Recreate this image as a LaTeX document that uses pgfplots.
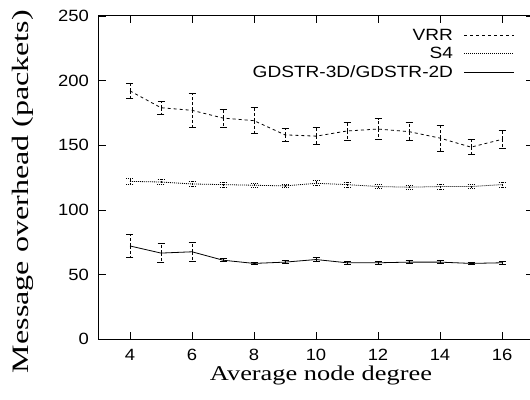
\documentclass[border=0pt]{standalone}
\usepackage{graphicx}
\usepackage{pgfplots}
\pgfplotsset{compat=1.18}
\usepackage{pgfplotstable}
\usepackage{fontspec}
\setmainfont{Liberation Serif}
\newfontfamily\arial[FakeStretch=1.13]{Liberation Sans}
\newfontfamily\legfont[FakeStretch=1.17]{Liberation Sans}
\newsavebox\lbox
\newcommand\fitx[2]{\sbox\lbox{#2}\pgfmathsetmacro\sx{#1/\wd\lbox}\scalebox{\sx}[1]{\usebox\lbox}}

\pgfplotstableread{
x y e
4 192 6
5 179 5
6 177 13
7 171 7
8 169 10
9 158 5
10 157 6.5
11 161 7
12 162.5 8
13 160.5 7
14 155.5 10
15 148.5 6
16 154.5 7
}\vrr
\pgfplotstableread{
x y e
4 122 2
5 121.5 2
6 120 2
7 119.5 2
8 119 1.5
9 118.5 1.5
10 120.5 2
11 119.5 2
12 118 1.5
13 117.5 1.5
14 118 2
15 118 1.5
16 119.5 2
}\sfour
\pgfplotstableread{
x y e
4 72 9
5 66.5 7.5
6 67.5 7.5
7 61 1
8 58.5 1
9 59.5 1
10 61.5 1.5
11 59 1
12 59 1
13 59.5 1
14 59.5 1
15 58.5 1
16 59 1
}\gdstr

\begin{document}
\begin{tikzpicture}
\useasboundingbox (-99pt,-60pt) rectangle (431pt,339pt);
\begin{axis}[
  scale only axis,
  width=434pt, height=323pt,
  xmin=3, xmax=17, ymin=0, ymax=250,
  xtick={4,6,...,16}, ytick={0,50,...,250},
  tick align=inside,
  major tick length=7pt,
  tick style={black, line width=0.6pt},
  axis line style={black, line width=1pt},
  /pgf/number format/assume math mode=true,
  ticklabel style={font=\arial\fontsize{16.3}{16}\selectfont},
  yticklabel style={xshift=-6.6pt},
  xticklabel style={yshift=-7pt},
  xlabel={\fitx{222}{Average node degree}},
  ylabel={\fitx{363}{Message overhead (packets)}},
  xlabel style={font=\fontsize{21}{22}\selectfont, at={(axis description cs:0.5,0)}, anchor=center, yshift=-36pt, xshift=5pt},
  ylabel style={font=\fontsize{23.5}{24}\selectfont, at={(axis description cs:0,0.5)}, anchor=center, yshift=76pt, xshift=-14pt},
  legend plot pos=right,
  legend cell align=right,
  legend image code/.code={\draw[#1] (0pt,0pt) -- (50pt,0pt);},
  legend style={draw=none, fill=none, at={(rel axis cs:1,1)}, anchor=north east,
    xshift=-15pt, yshift=-9pt,
    font=\legfont\fontsize{16.3}{19}\selectfont, row sep=1.5pt,
    /tikz/every odd column/.append style={column sep=9pt}},
]
\addplot[black, line width=0.8pt, dash pattern=on 3pt off 3pt,
  error bars/.cd, y dir=both, y explicit,
  error bar style={black, line width=0.8pt, dash pattern=on 3pt off 2pt},
  error mark options={rotate=90, mark size=3.5pt, black, line width=0.8pt, solid}]
  table[x=x, y=y, y error=e] {\vrr};
\addlegendentry{VRR}
\addplot[black, line width=0.8pt, dash pattern=on 1pt off 1pt,
  error bars/.cd, y dir=both, y explicit,
  error bar style={black, line width=0.8pt, dash pattern=on 1pt off 1pt},
  error mark options={rotate=90, mark size=3.5pt, black, line width=0.8pt, dash pattern=on 1pt off 1pt}]
  table[x=x, y=y, y error=e] {\sfour};
\addlegendentry{S4}
\addplot[black, line width=0.8pt,
  error bars/.cd, y dir=both, y explicit,
  error bar style={black, line width=0.8pt, dash pattern=on 3pt off 2pt},
  error mark options={rotate=90, mark size=3.5pt, black, line width=0.8pt}]
  table[x=x, y=y, y error=e] {\gdstr};
\addlegendentry{GDSTR-3D/GDSTR-2D}
\end{axis}
\end{tikzpicture}
\end{document}
